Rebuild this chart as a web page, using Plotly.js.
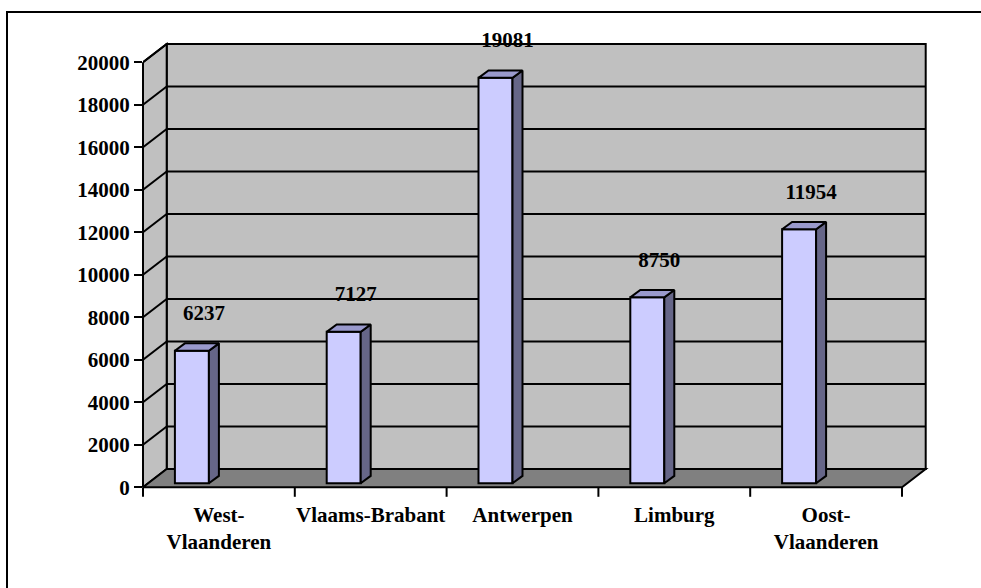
<!DOCTYPE html>
<html><head><meta charset="utf-8">
<script src="https://cdn.plot.ly/plotly-3.0.1.min.js"></script>
<style>html,body{margin:0;padding:0;background:#fff}#chart{width:981px;height:588px}</style>
</head><body><div id="chart"></div>
<script>
// ---- data ----
const categories = ['West-Vlaanderen', 'Vlaams-Brabant', 'Antwerpen', 'Limburg', 'Oost-Vlaanderen'];
const tickLabels = ['West-<br>Vlaanderen', 'Vlaams-Brabant', 'Antwerpen', 'Limburg', 'Oost-<br>Vlaanderen'];
const values = [6237, 7127, 19081, 8750, 11954];
const yTickVals = [0, 2000, 4000, 6000, 8000, 10000, 12000, 14000, 16000, 18000, 20000];

// ---- geometry (pixels) ----
const W = 981, H = 588;
const L = 143, R = 930, T = 40, B = 500;
const zeroPx = 487.3, topPx = 62.3, yTop = 20000;
const catPx = 151.8;
const s = (zeroPx - topPx) / yTop;
const px2x = p => p / catPx, px2y = p => p / s;
const xMin = -0.5, xMax = -0.5 + (R - L) / catPx;
const yMin = -(B - zeroPx) / s, yMax = (zeroPx - T) / s;
const DX = px2x(23.7), DY = px2y(18.3);          // full depth of the box
const barW = px2x(34), barOff = px2x(-27);       // bar front face width / shift
const b0 = px2y(4);                              // bar front face base (depth)
const ddx = px2x(10), ddy = px2y(7.4);           // bar depth
const nCat = categories.length;
const xLeft = -0.5, xRight = nCat - 0.5;

const FONT = {family: 'Liberation Serif, Times New Roman, serif', size: 21, color: '#000', weight: 'bold'};
const idx = categories.map((c, i) => i);
const centers = idx.map(i => i + barOff);

// side and top faces, built from the data
const sideX = [], sideY = [], topX = [], topY = [];
values.forEach((v, i) => {
  const xr = centers[i] + barW / 2, xl = centers[i] - barW / 2;
  sideX.push(xr, xr + ddx, xr + ddx, xr, xr, null);
  sideY.push(b0, b0 + ddy, b0 + v + ddy, b0 + v, b0, null);
  topX.push(xl, xl + ddx, xr + ddx, xr, xl, null);
  topY.push(b0 + v, b0 + v + ddy, b0 + v + ddy, b0 + v, b0 + v, null);
});

const traces = [
  {type: 'bar', x: centers, y: values, base: values.map(() => b0), width: barW,
   marker: {color: '#ccccff', line: {color: '#000', width: 2}}, hoverinfo: 'skip', showlegend: false},
  {type: 'scatter', mode: 'lines', x: sideX, y: sideY, fill: 'toself', fillcolor: '#666688',
   line: {color: '#000', width: 2}, hoverinfo: 'skip', showlegend: false},
  {type: 'scatter', mode: 'lines', x: topX, y: topY, fill: 'toself', fillcolor: '#9999cc',
   line: {color: '#000', width: 2}, hoverinfo: 'skip', showlegend: false},
  {type: 'scatter', mode: 'text', x: centers.map(c => c + px2x(12)), y: values.map(v => b0 + v + px2y(36)),
   text: values.map(String), textposition: 'middle center', textfont: FONT, cliponaxis: false,
   hoverinfo: 'skip', showlegend: false}
];

const line = {color: '#000', width: 2};
const shapes = [];
// back wall
shapes.push({type: 'rect', layer: 'below', xref: 'x', yref: 'y', x0: xLeft + DX, x1: xRight + DX, y0: DY, y1: yTop + DY,
  fillcolor: '#c0c0c0', line: line});
// left wall
shapes.push({type: 'path', layer: 'below', xref: 'x', yref: 'y',
  path: `M${xLeft},0 L${xLeft},${yTop} L${xLeft + DX},${yTop + DY} L${xLeft + DX},${DY} Z`,
  fillcolor: '#c0c0c0', line: line});
// floor
shapes.push({type: 'path', layer: 'below', xref: 'x', yref: 'y',
  path: `M${xLeft},0 L${xRight},0 L${xRight + DX},${DY} L${xLeft + DX},${DY} Z`,
  fillcolor: '#808080', line: line});
// gridlines
yTickVals.forEach(k => {
  if (k === 0) return;
  shapes.push({type: 'line', layer: 'below', xref: 'x', yref: 'y', x0: xLeft, x1: xLeft + DX, y0: k, y1: k + DY, line: line});
  if (k !== yTop) shapes.push({type: 'line', layer: 'below', xref: 'x', yref: 'y', x0: xLeft + DX, x1: xRight + DX, y0: k + DY, y1: k + DY, line: line});
});
// front y axis line
shapes.push({type: 'line', xref: 'paper', yref: 'y', x0: 0, x1: 0, y0: 0, y1: yTop, line: line});
// category boundary ticks
for (let i = 0; i <= nCat; i++) {
  const xb = xLeft + i;
  shapes.push({type: 'line', xref: 'paper', yref: 'y', x0: (xb - xMin) / (xMax - xMin), x1: (xb - xMin) / (xMax - xMin),
    y0: 0, y1: -px2y(9.5), line: line});
}
// outer border
shapes.push({type: 'rect', xref: 'paper', yref: 'paper',
  x0: (7 - L) / (R - L), x1: (995 - L) / (R - L), y0: (B - 600) / (B - T), y1: (B - 12) / (B - T),
  line: {color: '#000', width: 2}, fillcolor: 'rgba(0,0,0,0)'});

const layout = {
  width: W, height: H,
  margin: {l: L, r: W - R, t: T, b: H - B, pad: 0},
  paper_bgcolor: '#fff', plot_bgcolor: 'rgba(0,0,0,0)',
  showlegend: false,
  bargap: 0,
  xaxis: {type: 'linear', range: [xMin, xMax], tickvals: idx, ticktext: tickLabels, ticks: '',
    showgrid: false, zeroline: false, showline: false, tickfont: FONT, fixedrange: true},
  yaxis: {type: 'linear', range: [yMin, yMax], tickvals: yTickVals, ticktext: yTickVals.map(String),
    ticks: 'outside', ticklen: 8, tickwidth: 2, tickcolor: '#000',
    showgrid: false, zeroline: false, showline: false, tickfont: FONT, fixedrange: true},
  shapes: shapes
};

Plotly.newPlot('chart', traces, layout, {displayModeBar: false, staticPlot: true});
</script>
</body></html>
